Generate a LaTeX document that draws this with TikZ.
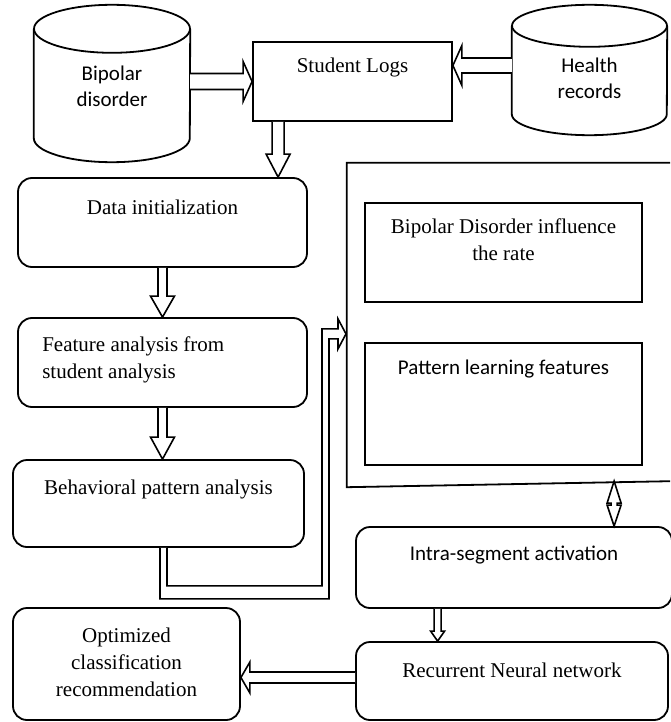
\documentclass[tikz,border=0pt]{standalone}
\usepackage{fontspec}
\setmainfont{Liberation Serif}
\newfontfamily\calfont{Carlito}
\usetikzlibrary{calc,positioning}
% block arrows: from #1 to tip #2, half shaft #3, half head #4, head length #5
\newcommand{\harrow}[5]{\draw[blk] let \p1=(#1), \p2=(#2), \n1={sign(\x2-\x1)} in
  (\x1,\y1+#3) -- (\x2-\n1*#5,\y1+#3) -- (\x2-\n1*#5,\y1+#4) -- (\x2,\y1)
  -- (\x2-\n1*#5,\y1-#4) -- (\x2-\n1*#5,\y1-#3) -- (\x1,\y1-#3);}
\newcommand{\varrow}[5]{\draw[blk] let \p1=(#1), \p2=(#2), \n1={sign(\y2-\y1)} in
  (\x1-#3,\y1) -- (\x1-#3,\y2-\n1*#5) -- (\x1-#4,\y2-\n1*#5) -- (\x1,\y2)
  -- (\x1+#4,\y2-\n1*#5) -- (\x1+#3,\y2-\n1*#5) -- (\x1+#3,\y1);}
% database drum round node #1, radii #2 and #3
\newcommand{\dbcyl}[3]{%
  \draw[box] ($(#1.north)+(0,-#3)$) ellipse [x radius=#2, y radius=#3];
  \draw[box] ($(#1.north west)+(0,-#3)$) -- ($(#1.south west)+(0,#3)$)
    arc [start angle=180, end angle=360, x radius=#2, y radius=#3] -- ($(#1.north east)+(0,-#3)$);}

\begin{document}
\begin{tikzpicture}[x=1pt,y=1pt,
  box/.style={draw, line width=1.8pt, inner sep=0pt},
  rbox/.style={box, rounded corners=14pt},
  ghost/.style={inner sep=0pt},
  srf/.style={font=\fontsize{21}{27}\selectfont, align=center, inner sep=0pt, anchor=base},
  sns/.style={font=\calfont\fontsize{21}{26}\selectfont, align=center, inner sep=0pt, anchor=base},
  blk/.style={draw, line width=1.6pt, fill=white, line join=miter}]
\useasboundingbox (0,0) rectangle (670,-722);

% sources
\node[ghost, minimum width=156pt, minimum height=157pt] (bip) at (112,-83.5) {};
\node[ghost, minimum width=155pt, minimum height=130pt] (hr) at (589.5,-70) {};
\node[box, minimum width=199pt, minimum height=79pt] (logs) at (352.5,-81.5) {};
\dbcyl{bip}{78}{24}
\dbcyl{hr}{77.5}{21}
% multi-line labels sit on their last baseline
\node[sns] (biplbl) at ($(bip.north)+(0,-102)$) {Bipolar\\disorder};
\node[sns] (hrlbl) at ($(hr.north)+(0,-94)$) {Health\\records};
\node[srf] (logslbl) at ($(logs.north)+(0,-31)$) {Student Logs};

% left column
\node[rbox, minimum width=289pt, minimum height=89pt] (init) at (162.5,-222.5) {};
\node[rbox, minimum width=289pt, minimum height=89pt] (feat) at (162.5,-362.5) {};
\node[rbox, minimum width=291pt, minimum height=87pt] (beh) at (158.5,-503.5) {};
\node[rbox, minimum width=227pt, minimum height=112pt] (opt) at (126.5,-664) {};
\node[srf] (initlbl) at ($(init.north)+(0,-37)$) {Data initialization};
\node[srf, align=left, anchor=base west] (featlbl) at ($(feat.north west)+(25,-61)$) {Feature analysis from\\student analysis};
\node[srf] (behlbl) at ($(beh.north)+(0,-35)$) {Behavioral pattern analysis};
\node[srf] (optlbl) at ($(opt.north)+(0,-89)$) {Optimized\\classification\\recommendation};

% right column
\node[ghost, minimum width=323pt, minimum height=322pt] (frame) at (508.5,-324) {};
\draw[box] (frame.north east) -- (frame.north west) -- ($(frame.south west)+(0,-2)$) -- ($(frame.south east)+(0,4)$);
\node[box, minimum width=277pt, minimum height=99pt] (bdr) at (503.5,-252.5) {};
\node[box, minimum width=277pt, minimum height=122pt] (plf) at (503.5,-404) {};
\node[rbox, minimum width=316pt, minimum height=81pt] (intra) at (514,-567.5) {};
\node[rbox, minimum width=312pt, minimum height=78pt] (rnn) at (512,-681) {};
\node[srf] (bdrlbl) at ($(bdr.north)+(0,-58)$) {Bipolar Disorder influence\\the rate};
\node[sns] (plflbl) at ($(plf.north)+(0,-32)$) {Pattern learning features};
\node[sns] (intralbl) at ($(intra.north)+(0,-34)$) {Intra-segment activation};
\node[srf] (rnnlbl) at ($(rnn.north)+(0,-36)$) {Recurrent Neural network};

% arrows
\harrow{bip.east |- logs.center}{logs.west}{8pt}{20pt}{9pt}
\harrow{$(hr.west |- logs.east)+(0,16)$}{logs.east}{7.5pt}{20pt}{9pt}
\varrow{$(logs.south west)+(26,0)$}{init.north}{6pt}{12pt}{23pt}
\varrow{init.south}{feat.north}{4.5pt}{12pt}{21pt}
\varrow{feat.south}{beh.north}{4.5pt}{12pt}{22pt}
\varrow{$(intra.south west)+(82.5,0)$}{rnn.north}{3.5pt}{7pt}{10pt}
\harrow{$(rnn.west)+(0,3.5)$}{opt.east}{5.5pt}{15.5pt}{9pt}

% elbow into the frame
\draw[blk] ($(beh.south)+(1.5,0)$) -- ++(0,-51) -- ++(169,0) -- ++(0,260) -- ++(9,0) -- ++(0,-10)
  -- ++(8,15) -- ++(-8,15) -- ++(0,-10) -- ++(-16,0) -- ++(0,-257) -- ++(-155,0) -- ++(0,38);

% two-way head between frame and intra
\draw[blk] ($(intra.north west)+(259,0)$) -- ++(-7,21) -- ++(4,0) -- ++(0,2) -- ++(-4,0)
  -- ++(7,22) -- ++(7,-22) -- ++(-4,0) -- ++(0,-2) -- ++(4,0) -- cycle;
\end{tikzpicture}
\end{document}
